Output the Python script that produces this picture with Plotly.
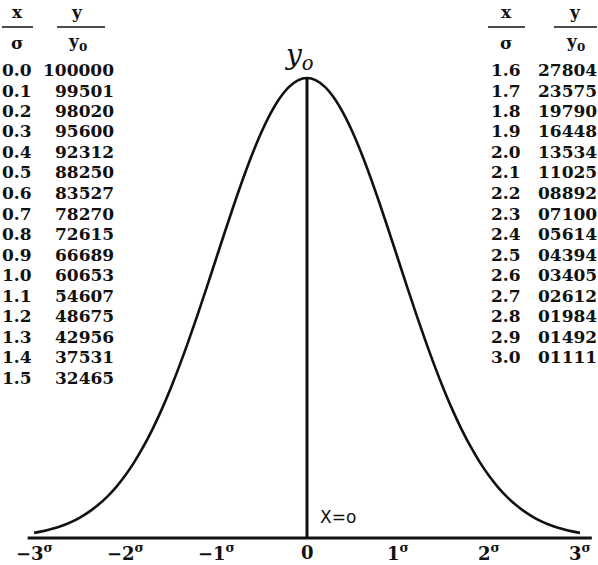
import plotly.graph_objects as go

# ---- data ----
left_x = ["0.0", "0.1", "0.2", "0.3", "0.4", "0.5", "0.6", "0.7", "0.8",
          "0.9", "1.0", "1.1", "1.2", "1.3", "1.4", "1.5"]
left_y = ["100000", "99501", "98020", "95600", "92312", "88250", "83527",
          "78270", "72615", "66689", "60653", "54607", "48675", "42956",
          "37531", "32465"]
right_x = ["1.6", "1.7", "1.8", "1.9", "2.0", "2.1", "2.2", "2.3", "2.4",
           "2.5", "2.6", "2.7", "2.8", "2.9", "3.0"]
right_y = ["27804", "23575", "19790", "16448", "13534", "11025", "08892",
           "07100", "05614", "04394", "03405", "02612", "01984", "01492",
           "01111"]
tick_vals = [-3, -2, -1, 0, 1, 2, 3]
tick_text = ["−3<sup>σ</sup>", "−2<sup>σ</sup>", "−1<sup>σ</sup>", "0",
             "1<sup>σ</sup>", "2<sup>σ</sup>", "3<sup>σ</sup>"]

W, H = 598, 565

# curve built from the tabulated ordinates, mirrored about x = 0
xs_half = [float(v) for v in left_x + right_x]
ys_half = [int(v) / 100000 for v in left_y + right_y]
curve_x = [-v for v in reversed(xs_half[1:])] + xs_half
curve_y = list(reversed(ys_half[1:])) + ys_half

SER = "DejaVu Serif"
INK = "#111111"

fig = go.Figure()
fig.add_trace(go.Scatter(x=curve_x, y=curve_y, mode="lines",
                         line=dict(color=INK, width=2.6, shape="spline"),
                         hoverinfo="skip", showlegend=False))

# pixel mapping: x_px = 307 + 91*x ; y_px = 538 - 460*y
X0, SX = 307, 91
Y0, SY = 538, 460
xr = [(0 - X0) / SX, (W - X0) / SX]
yr = [(Y0 - H) / SY, Y0 / SY]

fig.update_layout(
    width=W, height=H, margin=dict(l=0, r=0, t=0, b=0),
    paper_bgcolor="white", plot_bgcolor="white",
    xaxis=dict(range=xr, visible=False, fixedrange=True),
    yaxis=dict(range=yr, visible=False, fixedrange=True),
    showlegend=False,
)

# baseline and central ordinate
fig.add_shape(type="line", x0=-3.07, x1=3.13, y0=0, y1=0,
              line=dict(color=INK, width=3))
fig.add_shape(type="line", x0=0, x1=0, y0=0, y1=1,
              line=dict(color=INK, width=3))

def px(x):
    return x / W

def py(y):
    return 1 - y / H

def txt(x, y, t, size, xanchor="center", family=SER, bold=True, **kw):
    f = dict(family=family, size=size, color=INK)
    if bold:
        f["weight"] = "bold"
    d = dict(x=x, y=y, text=t, showarrow=False, xanchor=xanchor,
             yanchor="middle", font=f)
    d.setdefault("xref", "paper")
    d.setdefault("yref", "paper")
    d.update(kw)
    return d

ann = []
# axis tick labels
for v, t in zip(tick_vals, tick_text):
    ann.append(txt(v, py(552), t, 18, xref="x"))

FS = 17
for cx, cy, lx, ly in [(17, 77, (2, 33), (57, 105)),
                       (506, 575, (488, 525), (554, 597))]:
    ann.append(txt(px(cx), py(12), "x", FS))
    ann.append(txt(px(cy), py(12), "y", FS))
    ann.append(txt(px(cx), py(43), "σ", FS))
    ann.append(txt(px(cy), py(43), "y<sub>0</sub>", FS))
    for seg in (lx, ly):
        fig.add_shape(type="line", xref="paper", yref="paper",
                      x0=px(seg[0]), x1=px(seg[1]), y0=py(27), y1=py(27),
                      line=dict(color=INK, width=1.5))

ROW0, DR = 70, 20.5
for i, (a, b) in enumerate(zip(left_x, left_y)):
    y = py(ROW0 + DR * i)
    ann.append(txt(px(0), y, a, FS, xanchor="left"))
    ann.append(txt(px(116), y, b, FS, xanchor="right"))
for i, (a, b) in enumerate(zip(right_x, right_y)):
    y = py(ROW0 + DR * i)
    ann.append(txt(px(489), y, a, FS, xanchor="left"))
    ann.append(txt(px(599), y, b, FS, xanchor="right"))

# handwritten labels
ann.append(txt(0, py(56), "<i>y<sub>o</sub></i>", 28, xref="x", xshift=-8, bold=False))
ann.append(txt(0, py(517), "X=o", 17, xref="x", xshift=11, xanchor="left",
               family="DejaVu Sans", bold=False))

fig.update_layout(annotations=ann)
fig.write_html("out.html")
